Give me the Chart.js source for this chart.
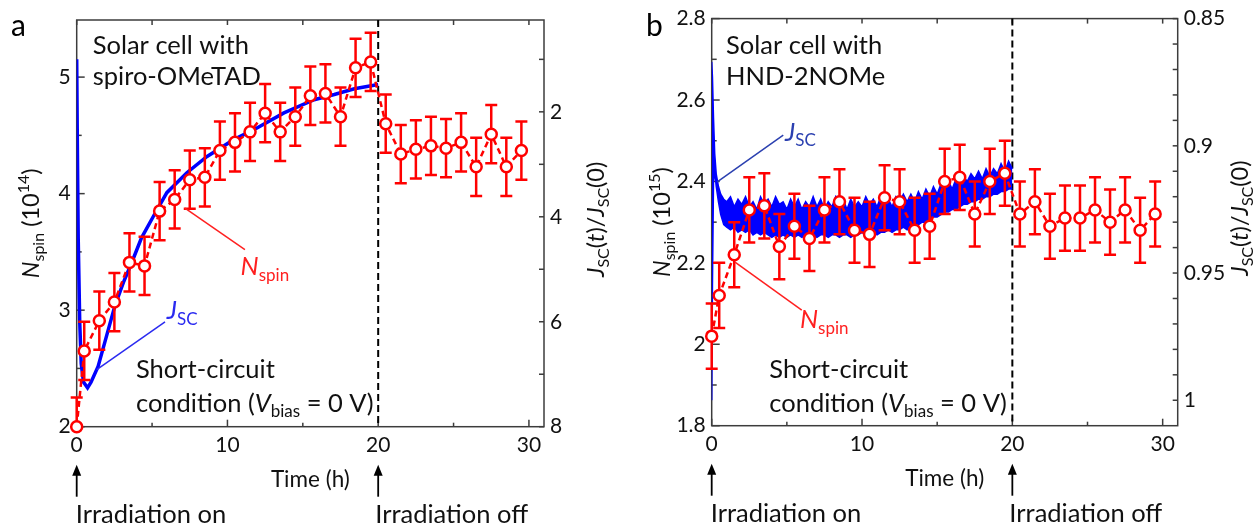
<!DOCTYPE html>
<html>
<head>
<meta charset="utf-8">
<script src="https://cdn.jsdelivr.net/npm/chart.js@4/dist/chart.umd.min.js"></script>
<style>
  html, body { margin: 0; padding: 0; background: #fff; }
  #wrap { position: relative; width: 1254px; height: 531px; }
  .panel { position: absolute; top: 0; }
  #pa { left: 0; }
  #pb { left: 630px; }
</style>
</head>
<body>
<div id="wrap">
  <div class="panel" id="pa"><canvas id="chartA" width="630" height="531"></canvas></div>
  <div class="panel" id="pb"><canvas id="chartB" width="624" height="531"></canvas></div>
</div>
<script>
// ---- shared time axis ----
const TIME_NSPIN = [0, 0.5, 1.5, 2.5, 3.5, 4.5, 5.5, 6.5, 7.5, 8.5, 9.5, 10.5, 11.5, 12.5, 13.5, 14.5,
  15.5, 16.5, 17.5, 18.5, 19.5, 20.5, 21.5, 22.5, 23.5, 24.5, 25.5, 26.5, 27.5, 28.5, 29.5];
const IRRADIATION_ON = 0;
const IRRADIATION_OFF = 20;
const TIME_TICKS = [0, 10, 20, 30];
const TIME_MINOR = [5, 15, 25];

// ---- panel a: spiro-OMeTAD ----
const NSPIN_A = [2.00, 2.65, 2.91, 3.07, 3.41, 3.38, 3.85, 3.95, 4.12, 4.14, 4.37, 4.44, 4.53, 4.69, 4.53, 4.66,
  4.84, 4.86, 4.66, 5.08, 5.13, 4.60, 4.34, 4.38, 4.41, 4.39, 4.44, 4.23, 4.51, 4.23, 4.37];
const NSPIN_A_ERR = 0.25;
const TIME_JSC_A = [0, 0.04, 0.1, 0.2, 0.3, 0.45, 0.72, 0.95, 1.42, 2.0, 2.53, 3.1, 3.64, 4.3, 5.09, 5.98,
  7.31, 8.65, 10.42, 11.75, 13.75, 15.75, 17.09, 18.42, 20.0];
const JSC_A = [1.0, 2.5, 4.4, 6.0, 6.8, 7.15, 7.26, 7.15, 6.85, 6.25, 5.70, 5.25, 4.88, 4.4, 3.99, 3.54,
  3.16, 2.85, 2.53, 2.34, 2.02, 1.77, 1.67, 1.56, 1.48];
const NSPIN_A_TICKS = [2, 3, 4, 5];
const NSPIN_A_MINOR = [2.5, 3.5, 4.5];
const JSC_A_TICKS = [2, 4, 6, 8];
const JSC_A_MINOR = [1, 3, 5, 7];

// ---- panel b: HND-2NOMe ----
const NSPIN_B = [2.02, 2.12, 2.22, 2.33, 2.34, 2.24, 2.29, 2.26, 2.33, 2.35, 2.28, 2.27, 2.36, 2.35, 2.28, 2.29,
  2.40, 2.41, 2.32, 2.40, 2.42, 2.32, 2.35, 2.29, 2.31, 2.31, 2.33, 2.30, 2.33, 2.28, 2.32];
const NSPIN_B_ERR = 0.08;
// J_SC trace of panel b is a noisy band: upper and lower edge
const TIME_JSC_B = [0, 0.05, 0.12, 0.2, 0.3, 0.45, 0.6, 0.8,
  1, 1.25, 1.5, 1.75, 2, 2.25, 2.5, 2.75, 3, 3.25, 3.5, 3.75, 4, 4.25, 4.5, 4.75,
  5, 5.25, 5.5, 5.75, 6, 6.25, 6.5, 6.75, 7, 7.25, 7.5, 7.75, 8, 8.25, 8.5, 8.75,
  9, 9.25, 9.5, 9.75, 10, 10.25, 10.5, 10.75, 11, 11.25, 11.5, 11.75, 12, 12.25, 12.5, 12.75,
  13, 13.25, 13.5, 13.75, 14, 14.25, 14.5, 14.75, 15, 15.25, 15.5, 15.75, 16, 16.25, 16.5, 16.75,
  17, 17.25, 17.5, 17.75, 18, 18.25, 18.5, 18.75, 19, 19.25, 19.5, 19.75, 20];
const JSC_B_TOP = [0.867, 0.873, 0.889, 0.903, 0.911, 0.916, 0.919, 0.921,
  0.922, 0.920, 0.924, 0.921, 0.923, 0.920, 0.924, 0.922, 0.925, 0.920,
  0.923, 0.921, 0.924, 0.920, 0.923, 0.922, 0.925, 0.921, 0.924, 0.921,
  0.925, 0.922, 0.924, 0.920, 0.924, 0.921, 0.925, 0.922, 0.924, 0.920,
  0.923, 0.921, 0.925, 0.921, 0.924, 0.922, 0.924, 0.920, 0.923, 0.921,
  0.924, 0.920, 0.923, 0.921, 0.924, 0.920, 0.922, 0.919, 0.922, 0.919,
  0.922, 0.918, 0.921, 0.917, 0.920, 0.916, 0.919, 0.915, 0.918, 0.914,
  0.917, 0.913, 0.916, 0.912, 0.914, 0.911, 0.913, 0.910, 0.913, 0.909,
  0.912, 0.909, 0.911, 0.907, 0.910, 0.906, 0.909];
const JSC_B_BOTTOM = [1.0, 0.955, 0.914, 0.910, 0.916, 0.922, 0.927, 0.931,
  0.932, 0.933, 0.932, 0.934, 0.933, 0.934, 0.933, 0.935, 0.934, 0.935,
  0.934, 0.935, 0.936, 0.935, 0.936, 0.935, 0.936, 0.935, 0.936, 0.935,
  0.936, 0.935, 0.936, 0.935, 0.936, 0.935, 0.935, 0.936, 0.935, 0.935,
  0.936, 0.935, 0.935, 0.936, 0.935, 0.935, 0.934, 0.935, 0.934, 0.934,
  0.935, 0.934, 0.934, 0.933, 0.934, 0.933, 0.933, 0.932, 0.933, 0.932,
  0.931, 0.931, 0.930, 0.930, 0.929, 0.928, 0.928, 0.927, 0.926, 0.926,
  0.925, 0.925, 0.924, 0.923, 0.923, 0.922, 0.922, 0.921, 0.921, 0.920,
  0.920, 0.919, 0.919, 0.918, 0.918, 0.917, 0.917];
const NSPIN_B_TICKS = [1.8, 2, 2.2, 2.4, 2.6, 2.8];
const NSPIN_B_MINOR = [1.9, 2.1, 2.3, 2.5, 2.7];
const JSC_B_TICKS = [0.85, 0.9, 0.95, 1];
const JSC_B_MINOR = [0.86, 0.87, 0.88, 0.89, 0.91, 0.92, 0.93, 0.94, 0.96, 0.97, 0.98, 0.99];

// ---- styling ----
const FONT = 'Lato, "Open Sans", sans-serif';
const RED = '#ff0000';
const BLUE = '#0000ff';
const INK = '#111111';
const FRAME = '#3c3c3c';
const TICK_SIZE = 21;
const NOTE_SIZE = 25.5;
const TITLE_SIZE = 23.5;
const AXIS_BOX = 60; // fixed width/height of every axis box

// rich text helpers (italic, sub- and superscript runs)
function fontFor(run, size) {
  const s = (run.sub || run.sup) ? Math.round(size * 0.68) : size;
  return (run.i ? 'italic ' : '') + s + 'px ' + FONT;
}

function richWidth(ctx, runs, size) {
  let w = 0;
  runs.forEach(r => { ctx.font = fontFor(r, size); w += ctx.measureText(r.t).width; });
  return w;
}

function drawRich(ctx, runs, x, y, size, color, align) {
  const w = richWidth(ctx, runs, size);
  let cx = align === 'center' ? x - w / 2 : x;
  ctx.textAlign = 'left';
  ctx.textBaseline = 'alphabetic';
  ctx.fillStyle = color;
  runs.forEach(r => {
    ctx.font = fontFor(r, size);
    const dy = r.sub ? size * 0.22 : (r.sup ? -size * 0.4 : 0);
    ctx.fillText(r.t, cx, y + dy);
    cx += ctx.measureText(r.t).width;
  });
}

function line(ctx, x1, y1, x2, y2) {
  ctx.beginPath();
  ctx.moveTo(x1, y1);
  ctx.lineTo(x2, y2);
  ctx.stroke();
}

const NSPIN_RUNS = [{ t: 'N', i: true }, { t: 'spin', sub: true }];
const JSC_RUNS = [{ t: 'J', i: true }, { t: 'SC', sub: true }];
const CONDITION_RUNS = [{ t: 'condition (' }, { t: 'V', i: true }, { t: 'bias', sub: true }, { t: ' = 0 V)' }];
const RATIO_TITLE = [{ t: 'J', i: true }, { t: 'SC', sub: true }, { t: '(' }, { t: 't', i: true }, { t: ')/' },
  { t: 'J', i: true }, { t: 'SC', sub: true }, { t: '(0)' }];

/**
 * Frame, inward ticks, error bars and annotations for one panel
 */
function decorPlugin(p) {
  return {
    id: 'decor',
    beforeDatasetsDraw(chart) {
      const { ctx, chartArea: a, scales: { x, y, y2 } } = chart;
      ctx.save();
      ctx.strokeStyle = FRAME;
      ctx.lineWidth = 1.5;
      ctx.strokeRect(a.left, a.top, a.right - a.left, a.bottom - a.top);

      TIME_TICKS.forEach(v => {
        const px = x.getPixelForValue(v);
        line(ctx, px, a.bottom, px, a.bottom - 7);
        line(ctx, px, a.top, px, a.top + 5);
      });
      TIME_MINOR.forEach(v => {
        const px = x.getPixelForValue(v);
        line(ctx, px, a.bottom, px, a.bottom - 4);
        line(ctx, px, a.top, px, a.top + 5);
      });
      p.yTicks.forEach(v => { const py = y.getPixelForValue(v); line(ctx, a.left, py, a.left + 8, py); });
      p.yMinor.forEach(v => { const py = y.getPixelForValue(v); line(ctx, a.left, py, a.left + 5, py); });
      p.y2Ticks.concat(p.y2Minor).forEach(v => {
        const py = y2.getPixelForValue(v);
        line(ctx, a.right, py, a.right - 5, py);
      });

      // irradiation switched off
      ctx.strokeStyle = '#000';
      ctx.lineWidth = 2;
      ctx.setLineDash([7, 4]);
      const xo = x.getPixelForValue(IRRADIATION_OFF);
      line(ctx, xo, a.top, xo, a.bottom);
      ctx.restore();
    },

    beforeDatasetDraw(chart, args) {
      if (args.index !== 0) return;
      const { ctx, chartArea: a, scales: { x, y } } = chart;
      ctx.save();
      ctx.beginPath();
      ctx.rect(a.left - 10, a.top, a.right - a.left + 20, a.bottom - a.top);
      ctx.clip();
      ctx.strokeStyle = RED;
      ctx.lineWidth = 2.5;
      p.nspin.forEach((v, i) => {
        const px = x.getPixelForValue(TIME_NSPIN[i]);
        const top = y.getPixelForValue(v + p.err);
        const bot = y.getPixelForValue(v - p.err);
        line(ctx, px, top, px, bot);
        line(ctx, px - 6, top, px + 6, top);
        line(ctx, px - 6, bot, px + 6, bot);
      });
      ctx.restore();
    },

    afterDraw(chart) {
      const { ctx, chartArea: a, scales: { x, y } } = chart;
      const cy = (a.top + a.bottom) / 2;
      ctx.save();

      // notes inside the plot, placed in data coordinates
      p.notes.forEach(n => {
        drawRich(ctx, n.runs, x.getPixelForValue(n.at[0]), y.getPixelForValue(n.at[1]), NOTE_SIZE, n.color || INK, 'left');
      });
      ctx.lineWidth = 1.5;
      p.leaders.forEach(l => {
        ctx.strokeStyle = l.color;
        line(ctx, x.getPixelForValue(l.from[0]), y.getPixelForValue(l.from[1]),
          x.getPixelForValue(l.to[0]), y.getPixelForValue(l.to[1]));
      });

      // panel letter
      ctx.font = '30px ' + FONT;
      ctx.fillStyle = '#000';
      ctx.textAlign = 'left';
      ctx.textBaseline = 'alphabetic';
      ctx.fillText(p.letter, p.letterX, 36);

      // x axis title and irradiation arrows
      drawRich(ctx, [{ t: 'Time (h)' }], x.getPixelForValue(15.5), a.bottom + 60, 22.5, INK, 'center');
      [IRRADIATION_ON, IRRADIATION_OFF].forEach(t => {
        const px = x.getPixelForValue(t);
        ctx.strokeStyle = '#000';
        ctx.lineWidth = 1.8;
        line(ctx, px, a.bottom + 70, px, a.bottom + 46);
        ctx.fillStyle = '#000';
        ctx.beginPath();
        ctx.moveTo(px, a.bottom + 38);
        ctx.lineTo(px - 4.5, a.bottom + 49);
        ctx.lineTo(px + 4.5, a.bottom + 49);
        ctx.closePath();
        ctx.fill();
      });
      drawRich(ctx, [{ t: 'Irradiation on' }], x.getPixelForValue(IRRADIATION_ON) - 1, a.bottom + 96, NOTE_SIZE, INK, 'left');
      drawRich(ctx, [{ t: 'Irradiation off' }], x.getPixelForValue(IRRADIATION_OFF) - 3, a.bottom + 96, NOTE_SIZE, INK, 'left');

      // rotated axis titles
      [[a.left - p.yTitleGap, p.yTitle, cy], [a.right + p.y2TitleGap, RATIO_TITLE, cy - 4]].forEach(([tx, runs, ty]) => {
        ctx.save();
        ctx.translate(tx, ty);
        ctx.rotate(-Math.PI / 2);
        drawRich(ctx, runs, 0, 8, TITLE_SIZE, INK, 'center');
        ctx.restore();
      });
      ctx.restore();
    }
  };
}

/**
 * Build one panel: N_spin with error bars on the left axis, J_SC ratio (reversed) on the right
 */
function makePanel(canvasId, p) {
  const tickFont = { family: FONT, size: TICK_SIZE };
  const fixedTicks = values => scale => { scale.ticks = values.map(v => ({ value: v })); };
  const fixSize = scale => { if (scale.isHorizontal()) scale.height = AXIS_BOX; else scale.width = AXIS_BOX; };
  const axisBase = { grid: { display: false, drawTicks: false }, border: { display: false }, afterFit: fixSize };
  const tickOpts = { font: tickFont, color: INK, padding: 6, autoSkip: false, maxRotation: 0, callback: v => String(v) };

  const datasets = [{
    label: 'Nspin',
    yAxisID: 'y',
    data: TIME_NSPIN.map((t, i) => ({ x: t, y: p.nspin[i] })),
    borderColor: RED,
    borderWidth: 2.5,
    borderDash: [6, 4],
    pointRadius: 5.5,
    pointBackgroundColor: '#fff',
    pointBorderColor: RED,
    pointBorderWidth: 2.5,
    clip: false
  }].concat(p.jsc);

  // outer padding = wanted plot-area inset minus the fixed axis boxes
  const pad = p.inset;
  return new Chart(document.getElementById(canvasId), {
    type: 'line',
    data: { datasets },
    options: {
      responsive: false,
      animation: false,
      layout: { padding: { left: pad.left - AXIS_BOX, right: pad.right - AXIS_BOX, top: pad.top, bottom: pad.bottom - AXIS_BOX } },
      plugins: { legend: { display: false }, tooltip: { enabled: false } },
      scales: {
        x: { ...axisBase, type: 'linear', min: 0, max: 31, afterBuildTicks: fixedTicks(TIME_TICKS), ticks: tickOpts },
        y: { ...axisBase, position: 'left', min: p.yMin, max: p.yMax, afterBuildTicks: fixedTicks(p.yTicks), ticks: tickOpts },
        y2: { ...axisBase, position: 'right', reverse: true, min: p.y2Min, max: p.y2Max, afterBuildTicks: fixedTicks(p.y2Ticks), ticks: tickOpts }
      }
    },
    plugins: [decorPlugin(p)]
  });
}

makePanel('chartA', {
  letter: 'a', letterX: 11,
  inset: { left: 76.7, right: 86, top: 20, bottom: 104.3 },
  nspin: NSPIN_A, err: NSPIN_A_ERR,
  yMin: 2, yMax: 5.49, yTicks: NSPIN_A_TICKS, yMinor: NSPIN_A_MINOR,
  y2Min: 0.25, y2Max: 8, y2Ticks: JSC_A_TICKS, y2Minor: JSC_A_MINOR,
  yTitle: [{ t: 'N', i: true }, { t: 'spin', sub: true }, { t: ' (10' }, { t: '14', sup: true }, { t: ')' }],
  yTitleGap: 46, y2TitleGap: 52,
  jsc: [{
    label: 'Jsc',
    yAxisID: 'y2',
    data: TIME_JSC_A.map((t, i) => ({ x: t, y: JSC_A[i] })),
    borderColor: BLUE,
    borderWidth: 3.5,
    pointRadius: 0
  }],
  notes: [
    { runs: [{ t: 'Solar cell with' }], at: [1.06, 5.20] },
    { runs: [{ t: 'spiro-OMeTAD' }], at: [1.06, 4.93] },
    { runs: JSC_RUNS, at: [5.97, 2.92], color: '#2a2af0' },
    { runs: NSPIN_RUNS, at: [10.87, 3.30], color: '#ff2020' },
    { runs: [{ t: 'Short-circuit' }], at: [3.93, 2.415] },
    { runs: CONDITION_RUNS, at: [3.93, 2.13] }
  ],
  leaders: [
    { from: [1.33, 2.49], to: [5.86, 2.90], color: '#2a2af0' },
    { from: [7.18, 3.875], to: [11.16, 3.52], color: '#ff2020' }
  ]
});

makePanel('chartB', {
  letter: 'b', letterX: 16,
  inset: { left: 81.7, right: 76.3, top: 18.3, bottom: 105.3 },
  nspin: NSPIN_B, err: NSPIN_B_ERR,
  yMin: 1.8, yMax: 2.8, yTicks: NSPIN_B_TICKS, yMinor: NSPIN_B_MINOR,
  y2Min: 0.85, y2Max: 1.01, y2Ticks: JSC_B_TICKS, y2Minor: JSC_B_MINOR,
  yTitle: [{ t: 'N', i: true }, { t: 'spin', sub: true }, { t: ' (10' }, { t: '15', sup: true }, { t: ')' }],
  yTitleGap: 50, y2TitleGap: 62,
  jsc: [{
    label: 'Jsc top',
    yAxisID: 'y2',
    data: TIME_JSC_B.map((t, i) => ({ x: t, y: JSC_B_TOP[i] })),
    borderColor: BLUE,
    backgroundColor: BLUE,
    borderWidth: 1.5,
    pointRadius: 0,
    fill: '+1'
  }, {
    label: 'Jsc bottom',
    yAxisID: 'y2',
    data: TIME_JSC_B.map((t, i) => ({ x: t, y: JSC_B_BOTTOM[i] })),
    borderColor: BLUE,
    borderWidth: 1.5,
    pointRadius: 0,
    fill: false
  }],
  notes: [
    { runs: [{ t: 'Solar cell with' }], at: [0.95, 2.714] },
    { runs: [{ t: 'HND-2NOMe' }], at: [0.95, 2.636] },
    { runs: JSC_RUNS, at: [4.88, 2.50], color: '#2b40b0' },
    { runs: NSPIN_RUNS, at: [5.87, 2.039], color: '#ff2020' },
    { runs: [{ t: 'Short-circuit' }], at: [3.83, 1.916] },
    { runs: CONDITION_RUNS, at: [3.83, 1.834] }
  ],
  leaders: [
    { from: [0.37, 2.399], to: [4.76, 2.514], color: '#2b40b0' },
    { from: [1.55, 2.202], to: [5.99, 2.084], color: '#ff2020' }
  ]
});
</script>
</body>
</html>
